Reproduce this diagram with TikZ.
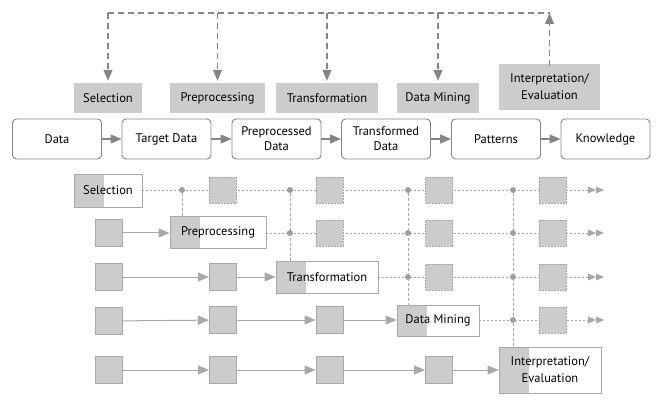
\documentclass[tikz,border=0pt]{standalone}
\usepackage{fontspec}
\setmainfont{PT Sans}
\usetikzlibrary{arrows.meta}
\definecolor{fillg}{HTML}{CCCCCC}
\definecolor{lineg}{HTML}{A8A8A8}
\definecolor{darkg}{HTML}{858585}
\begin{document}
\begin{tikzpicture}[x=1pt,y=-1pt,
  font=\fontsize{12.5}{15}\selectfont,
  flowbox/.style={draw=darkg, rounded corners=4pt, line width=0.9pt, minimum width=89pt, minimum height=40pt, align=center, inner sep=1pt},
  lbl/.style={fill=fillg, minimum height=30pt, align=center, inner sep=2pt},
  topdash/.style={draw=darkg, line width=1.1pt, dash pattern=on 6pt off 4pt},
  flowarrow/.style={-{Triangle[length=11pt,width=9pt]}, draw=darkg, line width=1.1pt},
  stagebox/.style={draw=lineg, fill=white, line width=0.9pt, align=center, inner sep=1pt,
    path picture={\fill[fillg] (path picture bounding box.north west) rectangle ([xshift=30pt]path picture bounding box.south west);}},
  sq/.style={draw=lineg, fill=fillg, line width=1pt, minimum width=27pt, minimum height=27pt, inner sep=0pt},
  dsq/.style={draw=lineg, fill=fillg, line width=0.9pt, dash pattern=on 2pt off 1pt, minimum width=27pt, minimum height=26pt, inner sep=0pt},
  dotline/.style={draw=lineg, line width=0.9pt, dash pattern=on 2pt off 2pt},
  vdash/.style={draw=lineg, line width=0.9pt, dash pattern=on 3pt off 2pt},
  gridarrow/.style={-{Triangle[length=11pt,width=9pt]}, draw=lineg, line width=1pt},
  jdot/.style={circle, fill=darkg!80, minimum size=6pt, inner sep=0pt}
]
\useasboundingbox (0,0) rectangle (664,406);

% ---------- top flow ----------
\node[flowbox] (d1) at (57,139) {Data};
\node[flowbox] (d2) at (166.5,139) {Target Data};
\node[flowbox] (d3) at (276.5,139) {Preprocessed\\Data};
\node[flowbox] (d4) at (386,139) {Transformed\\Data};
\node[flowbox] (d5) at (496,139) {Patterns};
\node[flowbox] (d6) at (605.5,139) {Knowledge};
\foreach \a/\b in {d1/d2,d2/d3,d3/d4,d4/d5,d5/d6}
  \draw[flowarrow] (\a) -- (\b);

\node[lbl, minimum width=68pt] (l1) at (108,98) {Selection};
\node[lbl, minimum width=95pt] (l2) at (217.5,98) {Preprocessing};
\node[lbl, minimum width=102pt] (l3) at (327,98) {Transformation};
\node[lbl, minimum width=82pt] (l4) at (438,98) {Data Mining};
\node[lbl, minimum width=101pt, minimum height=46pt, font=\fontsize{12.5}{17}\selectfont] (l5) at (549.5,87) {Interpretation/\\Evaluation};

\coordinate (t1) at (108,13);
\coordinate (t2) at (217.5,13);
\coordinate (t3) at (327,13);
\coordinate (t4) at (438,13);
\coordinate (t5) at (549.5,13);
\draw[topdash] (t1) -- (t5);
\foreach \i in {1,2,3,4}
  \draw[topdash, -{Triangle[length=11pt,width=9pt]}, darkg] (t\i) -- ([yshift=2pt]l\i.north);
\draw[topdash, -{Triangle[length=11pt,width=9pt]}, darkg] ([yshift=-2pt]l5.north) -- (t5);

% ---------- grid ----------
\node[stagebox, minimum width=68pt, minimum height=33pt] (s1) at (108,190.5) {Selection};
\node[stagebox, minimum width=96pt, minimum height=32pt] (s2) at (218,232) {Preprocessing};
\node[stagebox, minimum width=102pt, minimum height=32pt] (s3) at (327,277) {Transformation};
\node[stagebox, minimum width=82pt, minimum height=31pt] (s4) at (438,320.5) {Data Mining};
\node[stagebox, minimum width=102pt, minimum height=46pt, font=\fontsize{12.5}{17}\selectfont] (s5) at (550,370) {Interpretation/\\Evaluation};

% row end coordinates
\coordinate (e1) at (604,190);
\coordinate (e2) at (604,233);
\coordinate (e3) at (604,277);
\coordinate (e4) at (604,320);

% dotted horizontal lines
\draw[dotline] (s1.east |- e1) -- ([xshift=-16pt]e1);
\draw[dotline] (s2.east |- e2) -- ([xshift=-16pt]e2);
\draw[dotline] (s3.east |- e3) -- ([xshift=-16pt]e3);
\draw[dotline] (s4.east |- e4) -- ([xshift=-16pt]e4);
\foreach \r in {1,2,3,4}
  \fill[lineg] ([xshift=-16pt,yshift=-3.5pt]e\r) -- ([xshift=-8pt]e\r) -- ([xshift=-16pt,yshift=3.5pt]e\r) -- cycle
               ([xshift=-8pt,yshift=-3.5pt]e\r) -- (e\r) -- ([xshift=-8pt,yshift=3.5pt]e\r) -- cycle;

% junction dots
\coordinate (x1) at (182,0);
\coordinate (x2) at (290,0);
\coordinate (x3) at (408,0);
\coordinate (x4) at (513,0);

\node[jdot] (p11) at (x1 |- e1) {};
\node[jdot] (p12) at (x2 |- e1) {};
\node[jdot] (p13) at (x3 |- e1) {};
\node[jdot] (p14) at (x4 |- e1) {};
\node[jdot] (p22) at (x2 |- e2) {};
\node[jdot] (p23) at (x3 |- e2) {};
\node[jdot] (p24) at (x4 |- e2) {};
\node[jdot] (p33) at (x3 |- e3) {};
\node[jdot] (p34) at (x4 |- e3) {};
\node[jdot] (p44) at (x4 |- e4) {};

% vertical dashed lines
\draw[vdash] (p11) -- (p11 |- s2.north);
\draw[vdash] (p12) -- (p12 |- s3.north);
\draw[vdash] (p13) -- (p13 |- s4.north);
\draw[vdash] (p14) -- (p14 |- s5.north);

% dashed (future) squares
\node[dsq] (f12) at (222.5,190.5) {};
\node[dsq] (f13) at (329.5,190.5) {};
\node[dsq] (f14) at (439,190.5) {};
\node[dsq] (f15) at (552.5,190.5) {};
\node[dsq] (f23) at (329.5,233) {};
\node[dsq] (f24) at (439,233) {};
\node[dsq] (f25) at (552.5,233) {};
\node[dsq] (f34) at (439,277) {};
\node[dsq] (f35) at (552.5,277) {};
\node[dsq] (f45) at (552.5,320) {};

% solid squares
\node[sq] (q21) at (108.5,233) {};
\node[sq] (q31) at (108.5,277) {};
\node[sq] (q32) at (223,277) {};
\node[sq] (q41) at (108.5,321) {};
\node[sq] (q42) at (223,320) {};
\node[sq] (q43) at (329.5,320) {};
\node[sq] (q51) at (108.5,370) {};
\node[sq] (q52) at (223,370) {};
\node[sq] (q53) at (329.5,370) {};
\node[sq] (q54) at (439,370) {};

% solid arrows
\draw[gridarrow] (q21) -- (s2.west |- q21);
\draw[gridarrow] (q31) -- (q32);
\draw[gridarrow] (q32) -- (s3.west |- q32);
\draw[gridarrow] (q41) -- (q42);
\draw[gridarrow] (q42) -- (q43);
\draw[gridarrow] (q43) -- (s4.west |- q43);
\draw[gridarrow] (q51) -- (q52);
\draw[gridarrow] (q52) -- (q53);
\draw[gridarrow] (q53) -- (q54);
\draw[gridarrow] (q54) -- (s5.west |- q54);
\end{tikzpicture}
\end{document}
